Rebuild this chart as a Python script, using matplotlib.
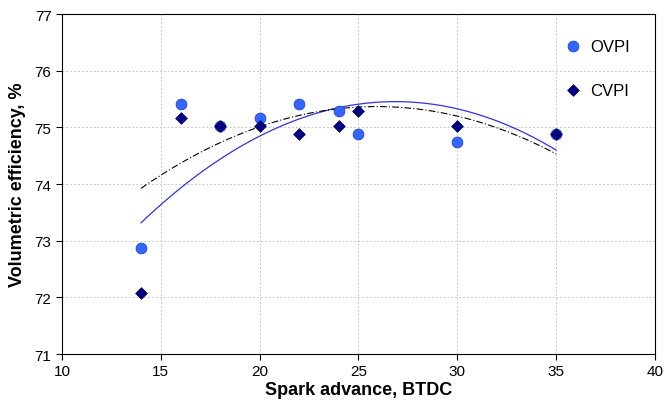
import numpy as np
import matplotlib
matplotlib.use("Agg")
import matplotlib.pyplot as plt

plt.rcParams['font.family'] = ['Liberation Sans', 'DejaVu Sans']

spark = [14, 16, 18, 20, 22, 24, 25, 30, 35]
ovpi = [72.87, 75.42, 75.02, 75.16, 75.42, 75.29, 74.88, 74.74, 74.88]
cvpi = [72.08, 75.16, 75.02, 75.02, 74.89, 75.02, 75.29, 75.02, 74.88]

fig = plt.figure(figsize=(6.64, 4.10), dpi=100)
ax = fig.add_axes([0.0934, 0.134, 0.893, 0.829])

xs = np.linspace(14, 35, 200)
po = np.polyfit(spark, ovpi, 2)
pc = np.polyfit(spark, cvpi, 2)
ax.plot(xs, np.polyval(pc, xs), color='#3333dd', lw=0.9, zorder=2)
ax.plot(xs, np.polyval(po, xs), color='black', lw=0.8, dashes=(6, 2, 1, 2), zorder=2)

ax.scatter(spark, ovpi, s=60, marker='o', color='#3366ff', edgecolor='#2244cc', linewidth=0.6, zorder=3, label='OVPI')
ax.scatter(spark, cvpi, s=36, marker='D', color='#000080', edgecolor='#000060', linewidth=0.5, zorder=4, label='CVPI')

ax.set_xlim(10, 40)
ax.set_ylim(71, 77)
ax.set_xticks(range(10, 41, 5))
ax.set_yticks(range(71, 78))
ax.grid(True, color='#c8c8c8', linestyle=(0, (2, 2)), linewidth=0.7)
ax.set_axisbelow(True)
for s in ax.spines.values():
    s.set_color('black')
    s.set_linewidth(0.8)
ax.tick_params(labelsize=11, direction='out', length=4)
ax.set_xlabel('Spark advance, BTDC', fontsize=13, fontweight='bold', labelpad=2)
ax.set_ylabel('Volumetric efficiency, %', fontsize=13, fontweight='bold', labelpad=6)

leg = ax.legend(loc='upper right', bbox_to_anchor=(0.983, 0.972), frameon=False, fontsize=12,
                labelspacing=1.75, handletextpad=0.05, scatterpoints=1)

fig.savefig('out.png', dpi=100)
